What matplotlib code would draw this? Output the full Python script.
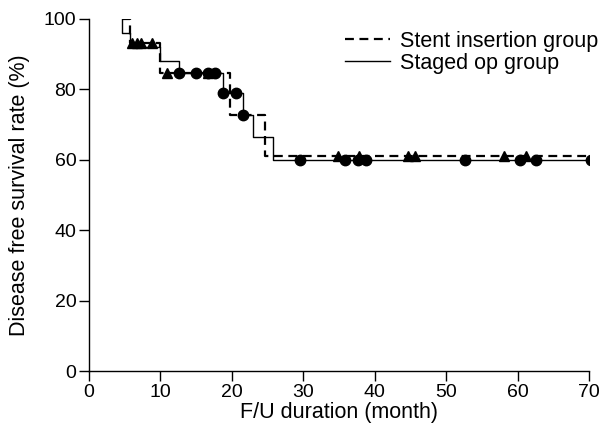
import matplotlib
matplotlib.use('Agg')
import matplotlib.pyplot as plt
import numpy as np

plt.rcParams['font.family'] = ['Liberation Sans', 'DejaVu Sans']

# step curves (time in months, survival %)
stent_t = [4.6, 5.7, 9.9, 19.7, 24.6, 70.3]
stent_s = [100, 93.3, 84.8, 72.8, 61.0, 61.0]
staged_t = [4.6, 4.6, 5.7, 9.9, 12.6, 18.8, 21.6, 22.9, 25.7, 70.3]
staged_s = [100, 96.0, 92.0, 88.0, 84.8, 79.1, 72.8, 66.6, 60.0, 60.0]

# censored observations
stent_cens_t = [6.1, 6.8, 7.3, 8.8, 11.0, 16.7, 34.8, 37.8, 44.7, 45.6, 58.1, 61.1]
stent_cens_s = [93.3, 93.3, 93.3, 93.3, 84.8, 84.8, 61.0, 61.0, 61.0, 61.0, 61.0, 61.0]
staged_cens_t = [12.6, 15.0, 16.7, 17.6, 18.8, 20.6, 21.6, 29.6, 35.8, 37.6, 38.8,
                 52.6, 60.3, 62.5, 70.3]
staged_cens_s = [84.8, 84.8, 84.8, 84.8, 79.1, 79.1, 72.8, 60.0, 60.0, 60.0, 60.0,
                 60.0, 60.0, 60.0, 60.0]

fig = plt.figure(figsize=(6, 4.41), dpi=100)
ax = fig.add_axes([0.148, 0.158, 0.834, 0.799])

ax.step(stent_t, stent_s, where='post', color='black', lw=1.6, ls=(0, (4, 2.5)),
        label='Stent insertion group')
ax.step(staged_t, staged_s, where='post', color='black', lw=1.0,
        label='Staged op group')
ax.plot(stent_cens_t, stent_cens_s, '^', color='black', ms=7, ls='none')
ax.plot(staged_cens_t, staged_cens_s, 'o', color='black', ms=7.5, ls='none')

ax.set_xlim(0, 70)
ax.set_ylim(0, 100)
ax.set_xticks(range(0, 71, 10))
ax.set_yticks(range(0, 101, 20))
for s in ['top', 'right']:
    ax.spines[s].set_visible(False)
for s in ['left', 'bottom']:
    ax.spines[s].set_linewidth(1.0)
    ax.spines[s].set_clip_on(False)
ax.tick_params(direction='out', length=7, width=1.0, labelsize=14, pad=2)
ax.set_xlabel('F/U duration (month)', fontsize=15.5, labelpad=1)
ax.set_ylabel('Disease free survival rate (%)', fontsize=15.5, labelpad=10)

ax.legend(loc='upper left', bbox_to_anchor=(0.512, 0.966), frameon=False, fontsize=15.5,
          handlelength=2.1, handletextpad=0.45, labelspacing=0.05,
          borderpad=0, borderaxespad=0)

fig.savefig('out.png', dpi=100)
